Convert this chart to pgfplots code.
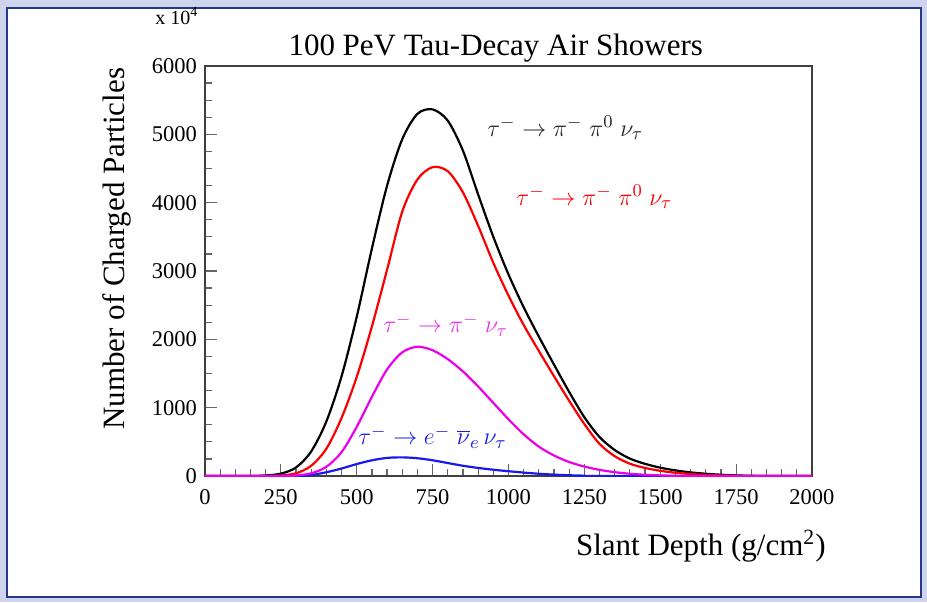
\documentclass[border=0pt]{standalone}
\usepackage{fontspec}
\setmainfont{Liberation Serif}
\usepackage{pgfplots}
\pgfplotsset{compat=1.18}
\definecolor{frameblue}{RGB}{35,55,140}
\definecolor{framebg}{RGB}{205,212,235}
\definecolor{cmag}{RGB}{235,0,235}
\definecolor{cmaglab}{RGB}{235,50,235}
\definecolor{cblue}{RGB}{25,25,235}
\definecolor{cred}{RGB}{250,0,0}
\newcommand{\gsp}{\mkern5mu}
\pgfkeys{/pgf/number format/set thousands separator={}, /pgf/number format/assume math mode=true}
\begin{document}
\begin{tikzpicture}
\fill[framebg] (-102.5pt,-63pt) rectangle (361pt,238pt);
\filldraw[fill=white, draw=frameblue, line width=1pt] (-99pt,-60.5pt) rectangle (358pt,234pt);
\begin{axis}[
  at={(0pt,0pt)}, anchor=south west,
  scale only axis, width=303.5pt, height=205pt,
  xmin=0, xmax=2000, ymin=0, ymax=6000,
  xtick={0,250,500,750,1000,1250,1500,1750,2000}, ytick={0,1000,2000,3000,4000,5000,6000},
  minor x tick num=4, minor y tick num=3,
  tick pos=left, tick align=inside,
  major tick length=6pt, minor tick length=3.5pt,
  axis line style={line width=1pt, black!75},
  tick style={black!60, line width=0.6pt},
  scaled ticks=false,
  clip mode=individual,
  ticklabel style={font=\fontsize{11.25}{13}\selectfont},
  xticklabel style={yshift=-3pt},
  yticklabel style={xshift=-0.5pt},
  title={100 PeV Tau-Decay Air Showers},
  title style={at={(0.479,1)}, anchor=base, yshift=-0.5pt, inner sep=0pt, font=\fontsize{15.5}{18}\selectfont},
  xlabel={Slant Depth (g/cm\textsuperscript{2})},
  xlabel style={at={(1,0)}, anchor=east, xshift=7pt, yshift=-35pt, inner sep=0pt, font=\fontsize{15.5}{18}\selectfont},
  ylabel={Number of Charged Particles},
  ylabel style={at={(-0.145,0.554)}, anchor=center, inner sep=0pt, font=\fontsize{15.5}{18}\selectfont},
]
\addplot[black, line width=1.1pt, smooth] coordinates {
(0,0) (150,0) (200,8) (250,35) (300,125) (350,360) (400,800) (450,1460) (500,2330) (550,3330) (600,4250) (650,4930) (700,5300) (750,5365) (800,5200) (850,4760) (900,4120) (950,3500) (1000,2950) (1050,2470) (1100,2040) (1150,1630) (1200,1230) (1250,860) (1300,570) (1350,380) (1400,255) (1450,178) (1500,122) (1550,82) (1600,53) (1650,33) (1700,19) (1750,9) (1800,3) (1850,0) (2000,0)};
\addplot[cred, line width=1.1pt, smooth] coordinates {
(0,0) (200,0) (250,8) (300,40) (350,150) (400,400) (450,850) (500,1450) (550,2190) (600,3020) (650,3870) (700,4340) (750,4520) (800,4460) (850,4150) (900,3660) (950,3120) (1000,2640) (1050,2210) (1100,1830) (1150,1460) (1200,1100) (1250,760) (1300,470) (1350,290) (1400,180) (1450,118) (1500,76) (1550,48) (1600,29) (1650,16) (1700,8) (1750,3) (1800,0) (2000,0)};
\addplot[cblue, line width=1.1pt, smooth] coordinates {
(0,0) (300,0) (350,15) (400,55) (450,110) (500,175) (550,230) (600,265) (650,273) (700,260) (750,230) (800,190) (850,150) (900,118) (950,92) (1000,70) (1050,50) (1100,33) (1150,20) (1200,11) (1250,5) (1300,0) (2000,0)};
\addplot[cmag, line width=1.1pt, smooth] coordinates {
(0,0) (250,0) (300,8) (350,40) (400,135) (450,350) (500,720) (550,1160) (600,1560) (650,1810) (700,1892) (750,1840) (800,1710) (850,1530) (900,1310) (950,1070) (1000,830) (1050,610) (1100,430) (1150,300) (1200,205) (1250,138) (1300,90) (1350,56) (1400,33) (1450,18) (1500,9) (1550,3) (1600,0) (2000,0)};
\node[anchor=west, inner sep=0pt, font=\fontsize{13}{15}\selectfont, text=black!85] at (axis cs:929,5093) {$\tau^-\rightarrow\pi^-\gsp\pi^0\gsp\nu_\tau$};
\node[anchor=west, inner sep=0pt, font=\fontsize{13}{15}\selectfont, text=cred] at (axis cs:1025,4083) {$\tau^-\rightarrow\pi^-\gsp\pi^0\gsp\nu_\tau$};
\node[anchor=west, inner sep=0pt, font=\fontsize{13}{15}\selectfont, text=cmaglab] at (axis cs:586,2210) {$\tau^-\rightarrow\pi^-\gsp\nu_\tau$};
\node[anchor=west, inner sep=0pt, font=\fontsize{13}{15}\selectfont, text=cblue] at (axis cs:504,571) {$\tau^-\rightarrow e^-\gsp\overline{\nu}_e\,\nu_\tau$};
\node[anchor=base west, inner sep=0pt, font=\fontsize{10}{12}\selectfont] at (rel axis cs:-0.0824,1.1024) {x 10\textsuperscript{4}};
\end{axis}
\end{tikzpicture}
\end{document}
